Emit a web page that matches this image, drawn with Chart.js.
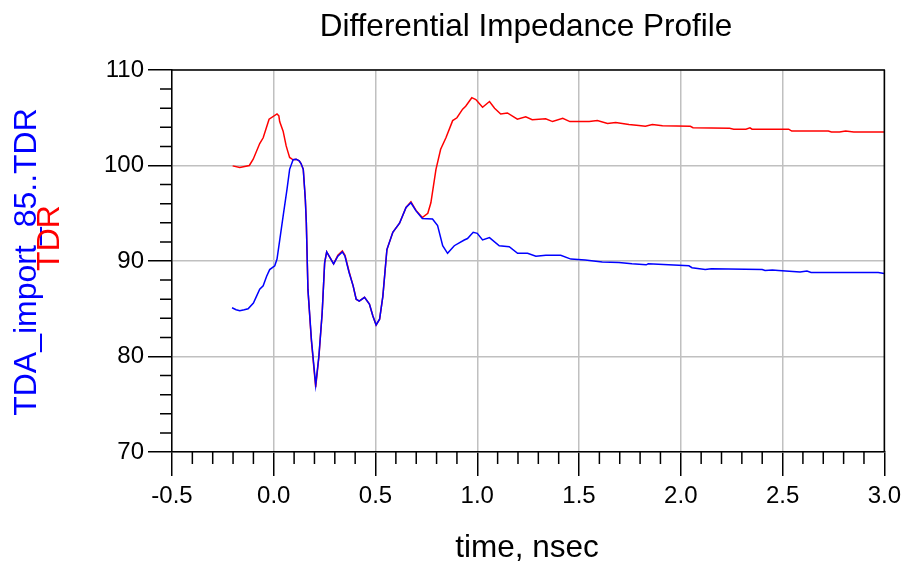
<!DOCTYPE html>
<html><head><meta charset="utf-8">
<script src="https://cdn.jsdelivr.net/npm/chart.js@4.4.1/dist/chart.umd.min.js"></script>
<style>html,body{margin:0;padding:0;background:#fff}#wrap{width:907px;height:566px;position:relative}canvas{display:block}</style>
</head><body><div id="wrap"><canvas id="c" width="907" height="566"></canvas></div>
<script>
const chartTitle = "Differential Impedance Profile";
const xTitle = "time, nsec";
const blueLabel = "TDA_import_85..TDR";
const redLabel = "TDR";

const blueT = [-0.205,-0.185,-0.167,-0.145,-0.126,-0.1,-0.085,-0.069,-0.052,-0.035,-0.02,0.005,0.016,0.03,0.046,0.065,0.078,0.095,0.11,0.125,0.134,0.145,0.155,0.16,0.168,0.185,0.206,0.222,0.238,0.25,0.26,0.275,0.294,0.315,0.337,0.35,0.37,0.39,0.405,0.42,0.446,0.47,0.487,0.503,0.52,0.536,0.556,0.585,0.618,0.65,0.674,0.699,0.73,0.78,0.805,0.83,0.854,0.887,0.936,0.952,0.98,1.0,1.026,1.06,1.108,1.157,1.198,1.247,1.288,1.337,1.41,1.46,1.53,1.614,1.696,1.76,1.83,1.84,2.04,2.055,2.12,2.15,2.4,2.414,2.45,2.48,2.586,2.62,2.64,2.97,3.0];
const blueV = [85.1,84.9,84.8,84.9,85.0,85.6,86.3,87.05,87.4,88.4,89.1,89.5,90.2,92.3,94.7,97.5,99.6,100.6,100.66,100.5,100.2,99.6,96.5,94,87,81.8,77.0,80.1,84.6,89.8,90.95,90.4,89.7,90.5,90.95,90.5,88.8,87.4,86.0,85.8,86.2,85.5,84.25,83.3,83.9,86.3,91.2,93.0,93.96,95.6,96.1,95.25,94.45,94.4,93.7,91.6,90.8,91.6,92.2,92.35,93.0,92.9,92.2,92.45,91.6,91.5,90.8,90.8,90.5,90.6,90.6,90.2,90.1,89.9,89.85,89.7,89.6,89.7,89.5,89.3,89.1,89.2,89.1,89.0,89.05,89.0,88.85,88.95,88.8,88.8,88.7];

const redT = [-0.202,-0.167,-0.12,-0.101,-0.069,-0.052,-0.023,0.016,0.025,0.029,0.046,0.061,0.07,0.078,0.095,0.11,0.125,0.134,0.145,0.155,0.16,0.168,0.185,0.206,0.222,0.238,0.25,0.26,0.275,0.294,0.315,0.337,0.35,0.37,0.39,0.405,0.42,0.446,0.47,0.487,0.503,0.52,0.536,0.556,0.585,0.618,0.65,0.674,0.699,0.73,0.757,0.772,0.797,0.82,0.846,0.879,0.9,0.928,0.943,0.973,0.993,1.026,1.06,1.085,1.115,1.148,1.197,1.238,1.27,1.336,1.37,1.42,1.455,1.55,1.59,1.64,1.68,1.745,1.794,1.826,1.86,1.91,2.047,2.06,2.24,2.26,2.32,2.34,2.35,2.53,2.545,2.725,2.74,2.78,2.81,2.85,3.0];
const redV = [99.96,99.8,100.0,100.66,102.3,102.9,104.85,105.4,105.2,104.6,103.6,102.05,101.4,100.84,100.6,100.66,100.5,100.2,99.6,96.5,94,87,81.6,76.8,80.0,84.6,89.8,90.95,90.4,89.7,90.6,91.05,90.6,88.9,87.4,86.0,85.8,86.2,85.5,84.25,83.3,83.9,86.3,91.2,93.0,93.96,95.6,96.2,95.3,94.55,95.0,96.1,99.6,101.7,102.9,104.7,105.0,105.9,106.2,107.1,106.9,106.1,106.7,106.0,105.4,105.5,104.85,105.1,104.8,104.9,104.6,104.95,104.6,104.6,104.7,104.4,104.5,104.3,104.2,104.1,104.3,104.15,104.1,103.95,103.9,103.8,103.8,103.95,103.8,103.8,103.6,103.6,103.5,103.5,103.6,103.5,103.5];

const xMin = -0.5, xMax = 3.0, xStep = 0.5, xMinor = 0.1;
const yMin = 70, yMax = 110, yStep = 10, yMinor = 2;

const FONT = '"Liberation Sans", Arial, sans-serif';
const toPts = (t, v) => t.map((x, i) => ({x: x, y: v[i]}));

const deco = {
  id: 'deco',
  afterDraw(chart) {
    const {ctx, chartArea: a, scales: {x, y}} = chart;
    ctx.save();
    ctx.strokeStyle = '#000';
    ctx.lineWidth = 1.5;
    ctx.beginPath();
    ctx.moveTo(a.left, a.top); ctx.lineTo(a.right, a.top); ctx.lineTo(a.right, a.bottom);
    ctx.stroke();
    ctx.beginPath();
    const nx = Math.round((xMax - xMin) / xMinor);
    for (let i = 0; i <= nx; i++) {
      if (i % Math.round(xStep / xMinor) === 0) continue;
      const px = x.getPixelForValue(xMin + i * xMinor);
      ctx.moveTo(px, a.bottom); ctx.lineTo(px, a.bottom + 12);
    }
    const ny = Math.round((yMax - yMin) / yMinor);
    for (let i = 0; i <= ny; i++) {
      if (i % Math.round(yStep / yMinor) === 0) continue;
      const py = y.getPixelForValue(yMin + i * yMinor);
      ctx.moveTo(a.left - 12, py); ctx.lineTo(a.left, py);
    }
    ctx.stroke();
    ctx.fillStyle = '#000';
    ctx.textAlign = 'center';
    ctx.textBaseline = 'alphabetic';
    ctx.font = '31.5px ' + FONT;
    ctx.fillText(chartTitle, 526, 36);
    ctx.fillText(xTitle, 527, 557);
    ctx.font = '32px ' + FONT;
    ctx.save();
    ctx.translate(36, 262); ctx.rotate(-Math.PI / 2);
    ctx.fillStyle = '#0000ff';
    ctx.fillText(blueLabel, 0, 0);
    ctx.restore();
    ctx.save();
    ctx.translate(59, 238); ctx.rotate(-Math.PI / 2);
    ctx.fillStyle = '#ff0000';
    ctx.fillText(redLabel, 0, 0);
    ctx.restore();
    ctx.restore();
  }
};

new Chart(document.getElementById('c'), {
  type: 'line',
  data: {
    datasets: [
      {label: blueLabel, data: toPts(blueT, blueV), borderColor: '#0000ff', borderWidth: 1.5, pointRadius: 0, tension: 0, fill: false},
      {label: redLabel, data: toPts(redT, redV), borderColor: '#ff0000', borderWidth: 1.5, pointRadius: 0, tension: 0, fill: false}
    ]
  },
  options: {
    responsive: false, animation: false, devicePixelRatio: 1,
    layout: {padding: {left: 0, right: 21, top: 70, bottom: 0}},
    plugins: {legend: {display: false}, title: {display: false}, tooltip: {enabled: false}},
    scales: {
      x: {
        type: 'linear', min: xMin, max: xMax,
        afterFit: s => { s.height = 114; },
        ticks: {stepSize: xStep, color: '#000', padding: 6, maxRotation: 0, autoSkip: false,
          font: {family: FONT, size: 24}, callback: v => Number(v).toFixed(1)},
        grid: {color: '#c0c0c0', lineWidth: 1.5, tickColor: '#000', tickLength: 24, tickWidth: 1.5},
        border: {color: '#000', width: 1.5}
      },
      y: {
        min: yMin, max: yMax,
        afterFit: s => { s.width = 172; },
        ticks: {stepSize: yStep, color: '#000', padding: 4, font: {family: FONT, size: 24}},
        grid: {color: '#c0c0c0', lineWidth: 1.5, tickColor: '#000', tickLength: 24, tickWidth: 1.5},
        border: {color: '#000', width: 1.5}
      }
    }
  },
  plugins: [deco]
});
</script></body></html>
